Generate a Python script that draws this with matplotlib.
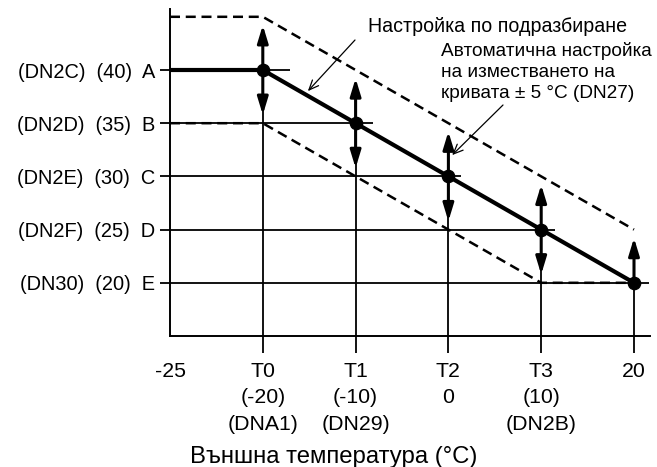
import matplotlib
matplotlib.use('Agg')
import matplotlib.pyplot as plt
import numpy as np

# ---------------- data ----------------
x_labels = ['-25', 'T0\n(-20)\n(DNA1)', 'T1\n(-10)\n(DN29)', 'T2\n0', 'T3\n(10)\n(DN2B)', '20']
level_values = [20, 25, 30, 35, 40]
level_labels = ['(DN30)  (20)  E', '(DN2F)  (25)  D', '(DN2E)  (30)  C',
                '(DN2D)  (35)  B', '(DN2C)  (40)  A']
default_curve = [40, 40, 35, 30, 25, 20]
upper_curve = [45, 45, 40, 35, 30, 25]
lower_curve = [35, 35, 30, 25, 20, 20]
up_arrow_idx = [1, 2, 3, 4, 5]
down_arrow_idx = [1, 2, 3, 4]
x_title = 'Външна температура (°C)'
note_default = 'Настройка по подразбиране'
note_shift = 'Автоматична настройка\nна изместването на\nкривата ± 5 °C (DN27)'

# ---------------- style / layout ----------------
FONT = ['Liberation Sans', 'DejaVu Sans']
plt.rcParams['font.family'] = FONT
W, H = 657, 467
X0, Y0 = 170, 336          # pixel of (position 0, 15 degC)
DX, DY = 92.8, 53.2 / 5.0  # pixels per position / per degC

fig = plt.figure(figsize=(W / 100, H / 100), dpi=100)
ax = fig.add_axes([X0 / W, (H - Y0) / H, (650 - X0) / W, (Y0 - 9) / H])
ax.set_xlim(0, (650 - X0) / DX)
ax.set_ylim(15, 15 + (Y0 - 9) / DY)

def px2data(px, py):
    return ((px - X0) / DX, 15 + (Y0 - py) / DY)

positions = np.arange(len(x_labels))

for s in ['top', 'right']:
    ax.spines[s].set_visible(False)
for s in ['left', 'bottom']:
    ax.spines[s].set_linewidth(1.4)
    ax.spines[s].set_color('black')

# x ticks
ax.set_xticks(positions)
ax.set_xticklabels(x_labels, fontsize=15, linespacing=1.3)
ax.tick_params(axis='x', direction='out', length=12.2, width=1.3, pad=6.5, colors='black')
ax.xaxis.get_major_ticks()[0].tick1line.set_visible(False)

# y ticks
ax.set_yticks(level_values)
ax.set_yticklabels(level_labels, fontsize=13.5)
ax.tick_params(axis='y', direction='out', length=7.2, width=1.3, pad=3.5, colors='black')

# horizontal reference lines up to the break point of each level
overshoot = [0.16, 0.15, 0.14, 0.19, 0.29]
for lvl, ov in zip(level_values, overshoot):
    brk = max(i for i, v in enumerate(default_curve) if v == lvl)
    ax.plot([0, positions[brk] + ov], [lvl, lvl], color='black', lw=1.3,
            solid_capstyle='butt', zorder=2)

# vertical lines from the bottom to the curve
for i in positions[1:]:
    ax.plot([i, i], [15, default_curve[i]], color='black', lw=1.3,
            solid_capstyle='butt', zorder=2)

# dashed shift curves
ax.plot(positions, upper_curve, color='black', lw=1.8, ls=(0, (4, 2.3)), zorder=3)
ax.plot(positions, lower_curve, color='black', lw=1.8, ls=(0, (4, 2.3)), zorder=3)

# default curve
ax.plot(positions, default_curve, color='black', lw=3.0, zorder=4,
        solid_joinstyle='miter')
ax.plot(positions[1:], default_curve[1:], 'o', color='black', ms=8.8, zorder=5)

# shift arrows
astyle = '-|>,head_length=1.05,head_width=0.32'
for i in up_arrow_idx:
    ax.annotate('', xy=(i, upper_curve[i]), xytext=(i, default_curve[i]),
                arrowprops=dict(arrowstyle=astyle, mutation_scale=10, lw=2.2,
                                color='black', shrinkA=0, shrinkB=6), zorder=6)
for i in down_arrow_idx:
    ax.annotate('', xy=(i, lower_curve[i]), xytext=(i, default_curve[i]),
                arrowprops=dict(arrowstyle=astyle, mutation_scale=10, lw=2.2,
                                color='black', shrinkA=0, shrinkB=6), zorder=6)

# annotation: default setting
tip_x = 1.455
ax.annotate('', xy=(tip_x, np.interp(tip_x, positions, default_curve)),
            xytext=px2data(355, 40),
            arrowprops=dict(arrowstyle='->,head_length=0.7,head_width=0.3',
                            mutation_scale=10, lw=0.9, color='black',
                            shrinkA=0, shrinkB=3))
t_def = fig.text(368 / W, 1 - 31.7 / H, note_default, fontsize=14.2, va='baseline',
                 ha='left', color='black')

# annotation: curve shift
ax.annotate('', xy=(positions[3] + 0.04, default_curve[3] + 2.0),
            xytext=px2data(503, 105),
            arrowprops=dict(arrowstyle='->,head_length=0.7,head_width=0.3',
                            mutation_scale=10, lw=0.9, color='black',
                            shrinkA=0, shrinkB=0))
t_shift = fig.text(441 / W, 1 - 98.3 / H, note_shift, fontsize=12.0, va='baseline',
                   ha='left', color='black', linespacing=1.1)

# x axis title
ax.set_xlabel(x_title, fontsize=15)
ax.xaxis.label.set_va('baseline')
ax.xaxis.set_label_coords((334 - X0) / (650 - X0), (Y0 - 463.3) / (Y0 - 9))

# ---- fit text sizes / line steps to the reference, measured in pixels ----
def ls_of(t):
    return getattr(t, '_linespacing', 1.2)

try:
    fig.canvas.draw()
    renderer = fig.canvas.get_renderer()

    def fit_width(texts, probe, target):
        for _ in range(3):
            w = probe.get_window_extent(renderer).width
            if w > 0:
                s = probe.get_fontsize() * target / w
                for t in texts:
                    t.set_fontsize(s)
            fig.canvas.draw()

    def fit_step(t, nlines, target_step):
        for _ in range(3):
            one = fig.text(0, 0, 'Ap', fontsize=t.get_fontsize())
            h1 = one.get_window_extent(renderer).height
            one.remove()
            h = t.get_window_extent(renderer).height
            step = (h - h1) / (nlines - 1)
            if step > 0:
                new_ls = ls_of(t) * target_step / step
                if 0.8 < new_ls < 2.5:
                    t.set_linespacing(new_ls)
            fig.canvas.draw()

    fit_width([t_def], t_def, 259)
    fit_width([t_shift], t_shift, 211)
    fit_step(t_shift, 3, 21.7)
    fit_width([ax.xaxis.label], ax.xaxis.label, 288)
    ylabs = ax.get_yticklabels()
    fit_width(ylabs, ylabs[-1], 138)
    xlabs = ax.get_xticklabels()
    fit_width(xlabs, xlabs[1], 71)
    fit_step(xlabs[1], 3, 26.5)
    for t in xlabs:
        t.set_linespacing(ls_of(xlabs[1]))
except Exception:
    pass

fig.savefig('out.png', dpi=100)
